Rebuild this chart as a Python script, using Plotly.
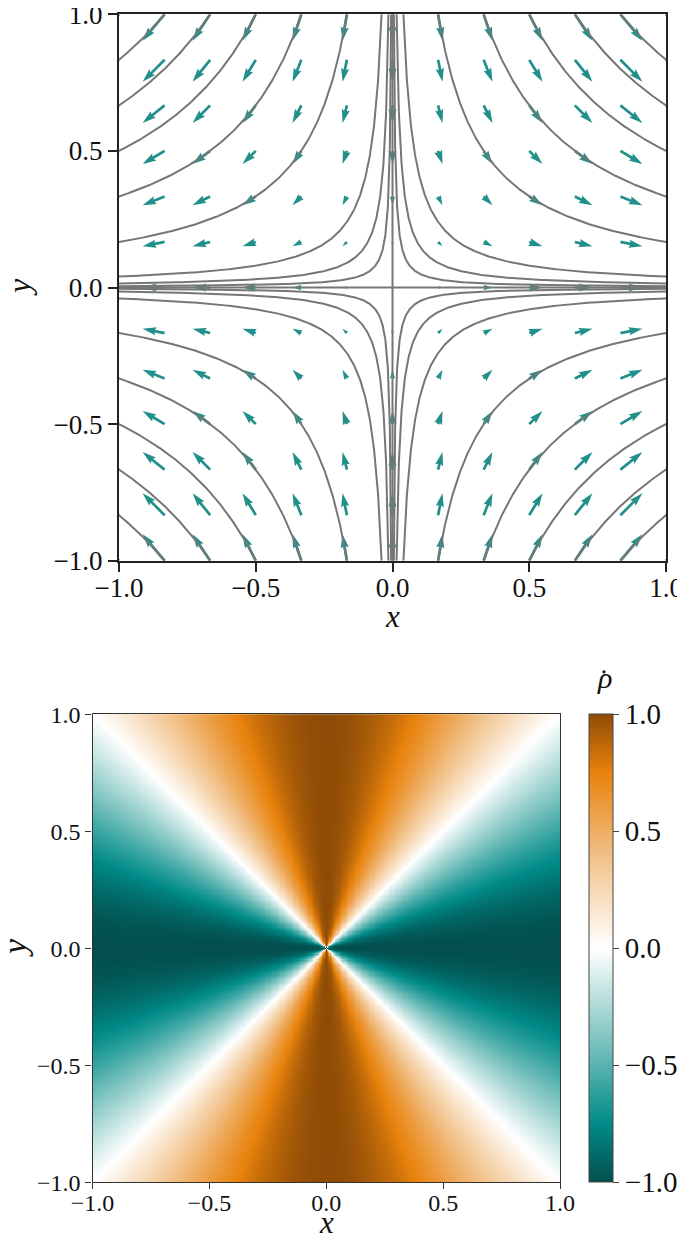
import numpy as np
import plotly.graph_objects as go

# quiver grid (13 x 13 points on [-1, 1])
arrow_grid = [-1.0, -0.8333, -0.6667, -0.5, -0.3333, -0.1667, 0.0,
              0.1667, 0.3333, 0.5, 0.6667, 0.8333, 1.0]
# streamline constants for |x*y| = c (plus the two axes)
stream_levels = [0.005, 0.015, 0.04, 0.1667, 0.3333, 0.5, 0.6667, 0.8333]
tick_vals = [-1.0, -0.5, 0.0, 0.5, 1.0]
tick_text = ["\u22121.0", "\u22120.5", "0.0", "0.5", "1.0"]

# heatmap sample grid
heat_x = np.linspace(-1, 1, 401)
heat_y = np.linspace(-1, 1, 401)

# page is 685x1241, the plot div starts after an 8px body margin
OFF = 8
W, H = 685 - OFF, 1241 - OFF
FONT = "Liberation Serif, DejaVu Serif, serif"
TEAL = "#22908a"
GREY = "#767676"
INK = "#111111"


def fx(p):
    return (p - OFF) / W


def fy(p):
    return 1 - (p - OFF) / H


# axes pixel boxes (page pixels)
top_l, top_r, top_t, top_b = 119, 666, 14.3, 560.7
bot_l, bot_r, bot_t, bot_b = 92.5, 560, 714.3, 1182.3
px_x = (top_r - top_l) / 2.0
px_y = (top_b - top_t) / 2.0


def field(x, y):
    return x, -y


def arrow_polygon(x0, y0, u, v, scale=26.4, width=2.74):
    # matplotlib-style quiver arrow, pivot at tail
    L = np.hypot(u, v) * scale / width
    if L == 0:
        return None
    hal, hl, hw, minsh = 4.5, 5.0, 3.0, 5.0
    if L >= minsh:
        X = np.array([0, L - hal, L - hl, L, L - hl, L - hal, 0, 0])
        Y = 0.5 * np.array([1, 1, hw, 0, -hw, -1, -1, 1])
    else:
        s = L / minsh
        X = s * np.array([0, minsh - hal, minsh - hl, minsh, minsh - hl, minsh - hal, 0, 0])
        Y = s * 0.5 * np.array([1, 1, hw, 0, -hw, -1, -1, 1])
    ang = np.arctan2(v, u)
    c, s_ = np.cos(ang), np.sin(ang)
    xs = width * (X * c - Y * s_)
    ys = width * (X * s_ + Y * c)
    return x0 + xs / px_x, y0 + ys / px_y


ax, ay = [], []
for xg in arrow_grid:
    for yg in arrow_grid:
        u, v = field(xg, yg)
        poly = arrow_polygon(xg, yg, u, v)
        if poly is None:
            continue
        ax += list(poly[0]) + [None]
        ay += list(poly[1]) + [None]

sx_, sy_ = [], []
for c in stream_levels:
    xs = np.geomspace(c, 1, 300)
    for qx, qy in [(1, 1), (-1, 1), (1, -1), (-1, -1)]:
        sx_ += list(qx * xs) + [None]
        sy_ += list(qy * c / xs) + [None]
sx_ += [0, 0, None, -1, 1]
sy_ += [-1, 1, None, 0, 0]

XX, YY = np.meshgrid(heat_x, heat_y)
R2 = XX ** 2 + YY ** 2
R2[R2 == 0] = 1
rho_dot = np.round((YY ** 2 - XX ** 2) / R2, 4)

cscale = [
    [0.0, "#024f4d"],
    [0.125, "#008b88"],
    [0.3, "#7cc3bf"],
    [0.5, "#ffffff"],
    [0.7, "#f1bf85"],
    [0.875, "#e8820c"],
    [1.0, "#8f4c06"],
]

fig = go.Figure()
fig.add_trace(go.Scatter(x=ax, y=ay, mode="lines", fill="toself",
                         fillcolor=TEAL, line=dict(width=0, color=TEAL),
                         hoverinfo="skip", showlegend=False,
                         xaxis="x", yaxis="y"))
fig.add_trace(go.Scatter(x=sx_, y=sy_, mode="lines",
                         line=dict(width=2, color=GREY),
                         hoverinfo="skip", showlegend=False,
                         xaxis="x", yaxis="y"))
fig.add_trace(go.Heatmap(
    x=heat_x, y=heat_y, z=rho_dot, zmin=-1, zmax=1,
    colorscale=cscale, hoverinfo="skip", xaxis="x2", yaxis="y2",
    colorbar=dict(
        x=fx(589), xanchor="left", xpad=0, ypad=0,
        y=fy((bot_t + bot_b) / 2), yanchor="middle",
        len=(bot_b - bot_t) / H, lenmode="fraction", thickness=24,
        outlinecolor="#444444", outlinewidth=1,
        ticks="outside", ticklen=6, tickcolor="#444444",
        tickvals=tick_vals, ticktext=tick_text,
        tickfont=dict(family=FONT, size=29, color=INK),
    ),
))

# axis titles and colorbar label as annotations
labels = [
    ("<i>x</i>", 392.5, 617, 0, 31),
    ("<i>y</i>", 19, 287, -90, 32),
    ("<i>x</i>", 326, 1222, 0, 31),
    ("<i>y</i>", 14, 948, -90, 34),
    ("<i>\u03c1</i>", 604, 677, 0, 30),
]
for txt, px, py, rot, size in labels:
    fig.add_annotation(x=fx(px), y=fy(py), xref="paper", yref="paper",
                       text=txt, showarrow=False, textangle=rot,
                       xanchor="center", yanchor="middle",
                       font=dict(family=FONT, size=size, color=INK))
# the dot over rho
fig.add_shape(type="circle", xref="paper", yref="paper",
              x0=fx(602.4), x1=fx(605.6), y0=fy(673.4), y1=fy(670.2),
              fillcolor=INK, line=dict(width=0))

top_axis = dict(range=[-1, 1], showgrid=False, zeroline=False, automargin=False,
                showline=True, mirror=True, linecolor="#222222", linewidth=2,
                ticks="outside", ticklen=9, tickwidth=2, tickcolor="#222222",
                tickvals=tick_vals, ticktext=tick_text, ticklabeloverflow="allow",
                tickfont=dict(family=FONT, size=27, color=INK))
bot_axis = dict(range=[-1, 1], showgrid=False, zeroline=False, automargin=False,
                showline=True, mirror=True, linecolor="#333333", linewidth=1.2,
                ticks="outside", ticklen=6, tickwidth=1.2, tickcolor="#333333",
                tickvals=tick_vals, ticktext=tick_text, ticklabeloverflow="allow",
                tickfont=dict(family=FONT, size=24, color=INK))

fig.update_layout(
    width=W, height=H, autosize=False,
    margin=dict(l=0, r=0, t=0, b=0),
    paper_bgcolor="white", plot_bgcolor="white",
    xaxis=dict(top_axis, domain=[fx(top_l), fx(top_r)], anchor="y",
               ticklabelstandoff=-7),
    yaxis=dict(top_axis, domain=[fy(top_b), fy(top_t)], anchor="x"),
    xaxis2=dict(bot_axis, domain=[fx(bot_l), fx(bot_r)], anchor="y2",
                ticklabelstandoff=-7),
    yaxis2=dict(bot_axis, domain=[fy(bot_b), fy(bot_t)], anchor="x2"),
)

fig.write_html("out.html")
